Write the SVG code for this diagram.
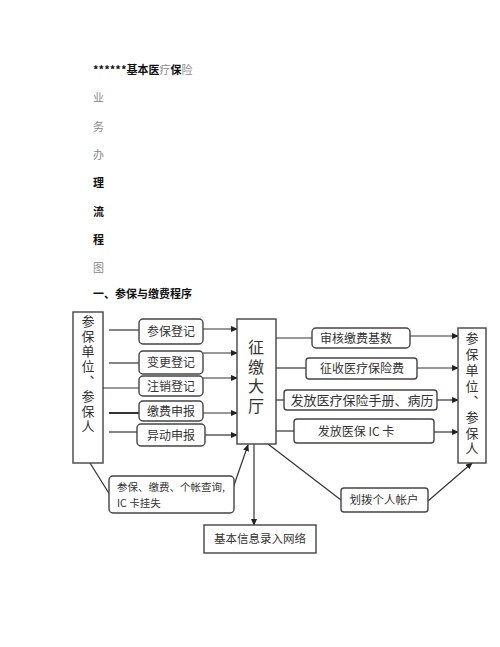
<svg xmlns="http://www.w3.org/2000/svg" width="500" height="647" viewBox="0 0 500 647">
<style>
text{font-family:"Noto Sans CJK SC","Liberation Serif",serif;fill:#333}
.h{font-size:11px}
.hb{font-size:11px;font-weight:bold;fill:#111}
.g{fill:#888;font-weight:normal}
.box{fill:#fff;stroke:#444;stroke-width:1.4}
.ln{stroke:#333;stroke-width:1.2;fill:none}
.t{font-size:12px;text-anchor:middle}
.v{font-size:13px;writing-mode:vertical-rl}
.hall{font-size:16px;writing-mode:vertical-rl;letter-spacing:3.5px}
</style>
<defs>
<marker id="ar" markerWidth="7" markerHeight="6" refX="6" refY="3" orient="auto" markerUnits="userSpaceOnUse">
<path d="M0,0 L7,3 L0,6 z" fill="#222"/>
</marker>
</defs>
<rect width="500" height="647" fill="#fff"/>
<g id="header">
<text x="93" y="74" class="hb">******基本医<tspan class="g">疗</tspan>保<tspan class="g">险</tspan></text>
<text x="93" y="102" class="h" style="fill:#888">业</text>
<text x="93" y="131" class="h" style="fill:#888">务</text>
<text x="93" y="159" class="h" style="fill:#888">办</text>
<text x="93" y="187" class="hb">理</text>
<text x="93" y="216" class="hb">流</text>
<text x="93" y="244" class="hb">程</text>
<text x="93" y="272" class="h" style="fill:#888">图</text>
<text x="93" y="298" class="hb">一、参保与缴费程序</text>
</g>
<g id="connectors">
<line class="ln" x1="109" y1="330" x2="139" y2="330"/>
<line class="ln" x1="109" y1="363" x2="139" y2="363"/>
<line class="ln" x1="103" y1="388" x2="139" y2="388"/>
<line class="ln" x1="109" y1="413" x2="139" y2="413" style="stroke-width:2"/>
<line class="ln" x1="109" y1="432" x2="137" y2="432"/>
<line class="ln" x1="203" y1="329" x2="237" y2="329" marker-end="url(#ar)"/>
<line class="ln" x1="203" y1="353" x2="237" y2="353" marker-end="url(#ar)"/>
<line class="ln" x1="203" y1="378" x2="237" y2="378" marker-end="url(#ar)"/>
<line class="ln" x1="203" y1="413" x2="237" y2="413" marker-end="url(#ar)"/>
<line class="ln" x1="205" y1="435" x2="237" y2="435" marker-end="url(#ar)"/>
<line class="ln" x1="276" y1="338" x2="312" y2="338"/>
<line class="ln" x1="276" y1="368" x2="306" y2="368"/>
<line class="ln" x1="276" y1="400" x2="284" y2="400"/>
<line class="ln" x1="276" y1="431" x2="294" y2="431"/>
<line class="ln" x1="410" y1="336" x2="458" y2="336" marker-end="url(#ar)"/>
<line class="ln" x1="417" y1="368" x2="458" y2="368" marker-end="url(#ar)"/>
<line class="ln" x1="437" y1="400" x2="458" y2="400" marker-end="url(#ar)"/>
<line class="ln" x1="434" y1="432" x2="458" y2="432" marker-end="url(#ar)"/>
<line class="ln" x1="90" y1="463" x2="110" y2="495"/>
<line class="ln" x1="233" y1="488" x2="248" y2="445" marker-end="url(#ar)"/>
<line class="ln" x1="254" y1="444" x2="254" y2="525" marker-end="url(#ar)"/>
<line class="ln" x1="268" y1="444" x2="341" y2="500"/>
<line class="ln" x1="428" y1="501" x2="472" y2="463" marker-end="url(#ar)"/>
</g>
<g id="left-party">
<rect class="box" x="73" y="312" width="30" height="151"/>
<text class="v" x="88" y="315" style="letter-spacing:2px">参保单位、参保人</text>
</g>
<g id="n-canbao"><rect class="box" x="139" y="319" width="64" height="25" rx="4"/><text class="t" x="171" y="336">参保登记</text></g>
<g id="n-biangeng"><rect class="box" x="139" y="351" width="64" height="23" rx="4"/><text class="t" x="171" y="367">变更登记</text></g>
<g id="n-zhuxiao"><rect class="box" x="139" y="376" width="64" height="20" rx="4"/><text class="t" x="171" y="391">注销登记</text></g>
<g id="n-jiaofei"><rect class="box" x="139" y="401" width="64" height="20" rx="4"/><text class="t" x="171" y="416">缴费申报</text></g>
<g id="n-yidong"><rect class="box" x="137" y="424" width="68" height="22" rx="4"/><text class="t" x="171" y="440">异动申报</text></g>
<g id="hall">
<rect class="box" x="237" y="319" width="39" height="125"/>
<text class="hall" x="256" y="339">征缴大厅</text>
</g>
<g id="n-shenhe"><rect class="box" x="312" y="328" width="98" height="20" rx="4"/><text class="t" x="356" y="343">审核缴费基数</text></g>
<g id="n-zhengshou"><rect class="box" x="306" y="358" width="111" height="21" rx="3"/><text class="t" x="362" y="373">征收医疗保险费</text></g>
<g id="n-shouce"><rect class="box" x="284" y="390" width="153" height="20" rx="3"/><text class="t" x="362" y="405" style="font-size:13px">发放医疗保险手册、病历</text></g>
<g id="n-ic"><rect class="box" x="294" y="419" width="140" height="24" rx="3"/><text class="t" x="356" y="436">发放医保 IC 卡</text></g>
<g id="right-party">
<rect class="box" x="458" y="328" width="28" height="135"/>
<text class="v" x="472" y="332" style="letter-spacing:2.7px">参保单位、参保人</text>
</g>
<g id="n-query"><rect class="box" x="109" y="476" width="125" height="37" rx="4"/>
<text style="font-size:10.5px" x="117" y="491">参保、缴费、个帐查询,</text>
<text style="font-size:10.5px" x="117" y="507">IC 卡挂失</text></g>
<g id="n-network"><rect class="box" x="204" y="525" width="112" height="28"/><text class="t" x="260" y="543" style="font-size:11.5px">基本信息录入网络</text></g>
<g id="n-huabo"><rect class="box" x="341" y="488" width="87" height="24" rx="3"/><text class="t" x="384" y="504" style="font-size:11.5px">划拨个人帐户</text></g>
</svg>
